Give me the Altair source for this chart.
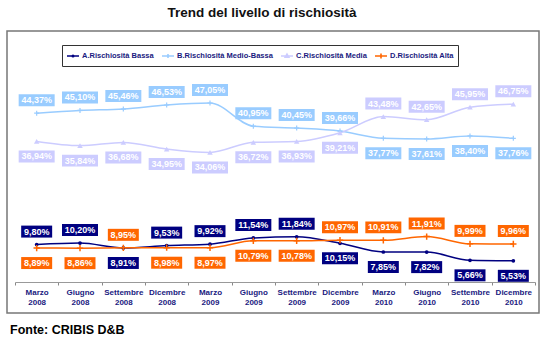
import altair as alt
import pandas as pd

periods = ["Marzo 2008", "Giugno 2008", "Settembre 2008", "Dicembre 2008",
           "Marzo 2009", "Giugno 2009", "Settembre 2009", "Dicembre 2009",
           "Marzo 2010", "Giugno 2010", "Settembre 2010", "Dicembre 2010"]
series_names = ["A.Rischiosità Bassa", "B.Rischiosità Medio-Bassa",
                "C.Rischiosità Media", "D.Rischiosità Alta"]
serie_a = [9.80, 10.20, 8.91, 9.53, 9.92, 11.54, 11.84, 10.15, 7.85, 7.82, 5.66, 5.53]
serie_b = [44.37, 45.10, 45.46, 46.53, 47.05, 40.95, 40.45, 39.66, 37.77, 37.61, 38.40, 37.76]
serie_c = [36.94, 35.84, 36.68, 34.95, 34.06, 36.72, 36.93, 39.21, 43.48, 42.65, 45.95, 46.75]
serie_d = [8.89, 8.86, 8.95, 8.98, 8.97, 10.79, 10.78, 10.97, 10.91, 11.91, 9.99, 9.96]
colors = ["#000080", "#99ccff", "#ccccff", "#ff6600"]
source_text = "Fonte: CRIBIS D&B"
title_text = "Trend del livello di rischiosità"

values = [serie_a, serie_b, serie_c, serie_d]
# label placed above for the higher series of each pair (A/D, B/C)
pairs = {0: 3, 3: 0, 1: 2, 2: 1}
rows = []
for si, name in enumerate(series_names):
    for pi, p in enumerate(periods):
        v = values[si][pi]
        other = values[pairs[si]][pi]
        lab = f"{v:.2f}".replace(".", ",") + "%"
        rows.append({"period": p, "series": name, "value": v, "label": lab,
                     "nchar": str(len(lab)),
                     "side": "above" if v >= other else "below"})
df = pd.DataFrame(rows)

FONT = "Liberation Sans"
xenc = alt.X("period:N", sort=periods,
             scale=alt.Scale(domain=periods, range=[8, 528], paddingInner=0, paddingOuter=0),
             axis=alt.Axis(title=None, offset=-31, tickBand="extent", tickSize=3,
                           tickColor="#888", domainColor="#999", labelAngle=0,
                           labelExpr="split(datum.label, ' ')", labelLineHeight=10,
                           labelFont=FONT, labelFontSize=8, labelFontWeight="bold",
                           labelColor="#1a1a80", labelPadding=3, grid=False))
yenc = alt.Y("value:Q", scale=alt.Scale(domain=[-8.2, 66], nice=False, zero=False), axis=None)

base = alt.Chart(df)

legend = alt.Legend(title=None, orient="none", legendX=55, legendY=14,
                    direction="horizontal", columns=4, gridAlign="none",
                    symbolSize=144, symbolStrokeWidth=1.6, labelFont=FONT,
                    labelFontSize=7.5, labelFontWeight="bold",
                    labelColor="#1a1a80", labelOffset=2,
                    columnPadding=4, padding=4,
                    strokeColor="#333", fillColor="white")
color_scale = alt.Scale(domain=series_names, range=colors)

# legend symbols: line segment + series marker (drawn with the stroke)
leg_paths = [
    "M-1,0H1M-0.13,0A0.13,0.13 0 1,0 0.13,0A0.13,0.13 0 1,0 -0.13,0Z",
    "M-1,0H1M0,-0.32V0.32",
    "M-1,0H1M0,-0.32L0.3,0.2H-0.3ZM0,-0.1L0.1,0.1H-0.1Z",
    "M-1,0H1M0,-0.4V0.4",
]

lines = base.mark_line(interpolate="monotone", strokeWidth=1.5).encode(
    x=xenc, y=yenc,
    color=alt.Color("series:N", scale=color_scale, legend=legend),
)

legend_layer = base.transform_filter("false").mark_point(filled=False, opacity=1).encode(
    x=xenc, y=yenc,
    color=alt.Color("series:N", scale=color_scale, legend=legend),
    shape=alt.Shape("series:N", scale=alt.Scale(domain=series_names, range=leg_paths),
                    legend=legend),
)

plus = "M-1,0H1M0,-1V1"
marker_styles = [
    dict(shape="circle", filled=True, size=14),
    dict(shape=plus, filled=False, size=25, strokeWidth=1.2),
    dict(shape="triangle-up", filled=True, size=30),
    dict(shape=plus, filled=False, size=40, strokeWidth=1.5),
]
marker_layers = []
for name, col, st in zip(series_names, colors, marker_styles):
    marker_layers.append(
        base.transform_filter(alt.datum.series == name)
        .mark_point(color=col, opacity=1, **st)
        .encode(x=xenc, y=yenc)
    )

box_paths = {"5": "M-0.861,-0.333H0.861V0.333H-0.861Z", "6": "M-1,-0.333H1V0.333H-1Z"}


def label_layers(side, offset):
    sub = base.transform_filter(alt.datum.side == side)
    layers = []
    for n, path in box_paths.items():
        layers.append(
            sub.transform_filter(alt.datum.nchar == n)
            .mark_point(filled=True, opacity=1, strokeWidth=0, size=1296,
                        shape=path, yOffset=offset)
            .encode(x=xenc, y=yenc,
                    fill=alt.Fill("series:N", scale=color_scale, legend=None))
        )
    layers.append(
        sub.mark_text(color="white", font=FONT, fontSize=9, fontWeight="bold",
                      baseline="middle", align="center", yOffset=offset)
        .encode(x=xenc, y=yenc, text="label:N")
    )
    return layers


fonte = alt.Chart(pd.DataFrame({"t": [source_text]})).mark_text(
    align="left", baseline="middle", font=FONT, fontSize=12.5, fontWeight="bold",
    color="black").encode(text="t:N", x=alt.value(3), y=alt.value(299))

chart = alt.layer(
    lines, legend_layer, *marker_layers,
    *label_layers("above", -13), *label_layers("below", 15), fonte
).properties(
    width=532, height=282,
    autosize=alt.AutoSizeParams(type="none"),
    padding={"left": 7, "top": 31, "right": 11, "bottom": 29},
    title=alt.TitleParams(title_text, font=FONT, fontSize=13.5, fontWeight="bold",
                          color="#111", anchor="middle", dx=-11, offset=12),
).configure_view(stroke="#777", strokeWidth=1.5)

chart.save("out.html", embed_options={"renderer": "svg", "actions": False})
